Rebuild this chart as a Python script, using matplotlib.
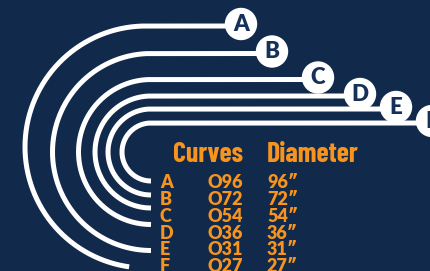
import numpy as np
import matplotlib.pyplot as plt
from matplotlib.patches import Circle

# table data
letters = ['A', 'B', 'C', 'D', 'E', 'F']
codes = ['O96', 'O72', 'O54', 'O36', 'O31', 'O27']
diameters = [96, 72, 54, 36, 31, 27]

# drawing geometry (pixel space)
arc_r = [121, 98.5, 72.5, 56, 43, 29]
arc_cx = [146, 151, 151, 151, 151, 151]
arc_cy = [147, 152, 152, 152, 152, 152]
arc_end = [262, 270, 270, 270, 270, 270]
badge_x = [241, 272, 318, 360, 396, 432]

bg = '#11294b'
orange = '#f7941d'
navy = '#15315a'

geo = ['Lato', 'DejaVu Sans']
head = ['Barlow Condensed', 'DejaVu Sans']

fig = plt.figure(figsize=(4.31, 2.71), dpi=100)
fig.patch.set_facecolor(bg)
ax = fig.add_axes([0, 0, 1, 1])
ax.set_facecolor(bg)
ax.set_xlim(0, 431)
ax.set_ylim(271, 0)
ax.axis('off')

for i in range(len(letters)):
    t = np.radians(np.linspace(90, arc_end[i], 200))
    x = arc_cx[i] + arc_r[i] * np.cos(t)
    y = arc_cy[i] - arc_r[i] * np.sin(t)
    top = arc_cy[i] - arc_r[i]
    x = np.concatenate([[badge_x[i]], x])
    y = np.concatenate([[top], y])
    ax.plot(x, y, color='white', lw=3.6, solid_capstyle='butt', zorder=2)
    ax.add_patch(Circle((badge_x[i], top - 2), 15.5, color='white', zorder=3))
    ax.text(badge_x[i], top - 1.5, letters[i], color=navy, fontsize=16,
            fontweight='heavy', family=geo, ha='center', va='center', zorder=4)

ax.text(243, 162, 'Curves', color=orange, fontsize=20, fontweight='bold',
        family=head, ha='right', va='baseline')
ax.text(267, 162, 'Diameter', color=orange, fontsize=20, fontweight='bold',
        family=head, ha='left', va='baseline')

for i in range(len(letters)):
    yb = 188.5 + i * 16.7
    ax.text(160, yb, letters[i], color=orange, fontsize=13, fontweight='heavy',
            family=geo, ha='left', va='baseline')
    ax.text(243, yb, codes[i], color=orange, fontsize=13, fontweight='heavy',
            family=geo, ha='right', va='baseline')
    ax.text(267, yb, f'{diameters[i]}\u2033', color=orange, fontsize=13,
            fontweight='heavy', family=geo, ha='left', va='baseline')

fig.savefig('out.png', dpi=100, facecolor=bg)
